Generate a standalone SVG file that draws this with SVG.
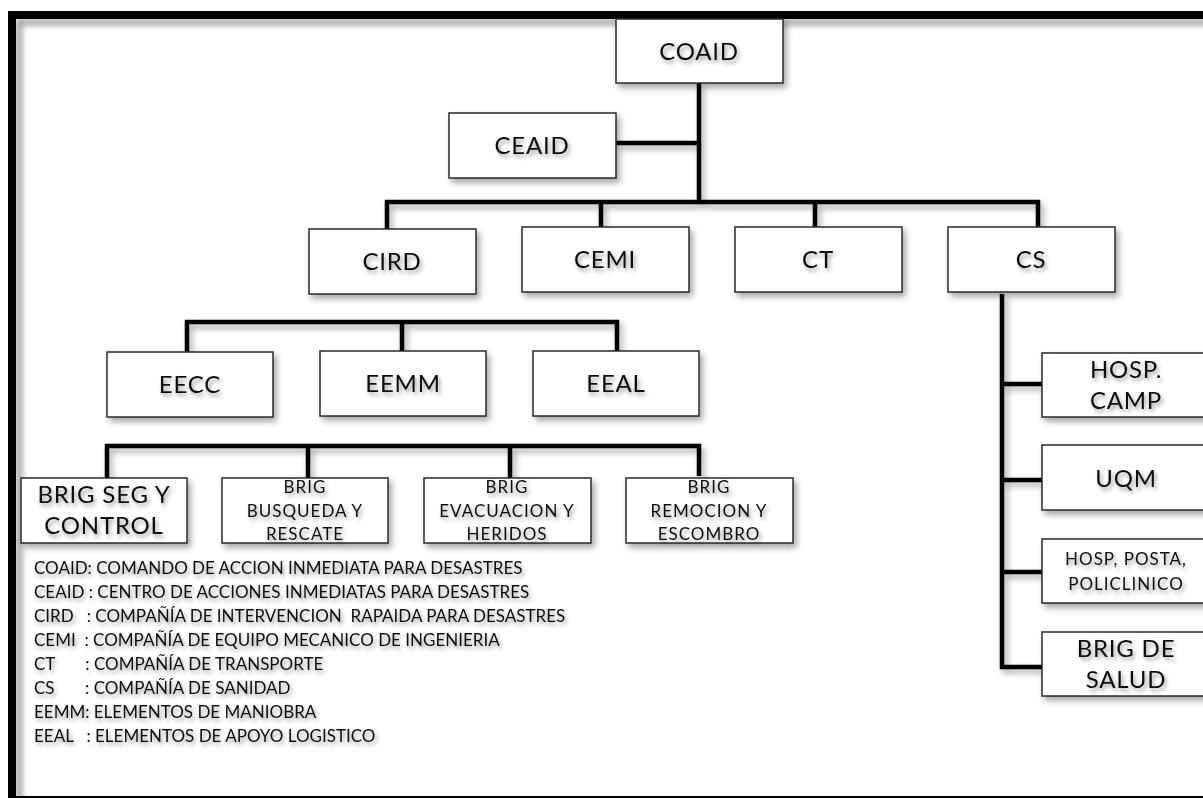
<svg xmlns="http://www.w3.org/2000/svg" width="1203" height="798" viewBox="0 0 1203 798">
<defs>
<filter id="sh" x="-20%" y="-20%" width="150%" height="160%">
<feDropShadow dx="3" dy="4" stdDeviation="3" flood-color="#000" flood-opacity="0.35"/>
</filter>
<filter id="csh" filterUnits="userSpaceOnUse" x="0" y="0" width="1203" height="798">
<feDropShadow dx="3" dy="4" stdDeviation="3" flood-color="#000" flood-opacity="0.35"/>
</filter>
<filter id="tsh" x="-10%" y="-30%" width="130%" height="180%">
<feDropShadow dx="2" dy="3" stdDeviation="2" flood-color="#000" flood-opacity="0.4"/>
</filter>
<filter id="blur" x="-5%" y="-5%" width="110%" height="110%">
<feGaussianBlur stdDeviation="3"/>
</filter>
</defs>
<style>
.box{fill:#fff;stroke:#2a2a2a;stroke-width:1.5;filter:url(#sh)}
.t{font-family:Lato,"Open Sans",sans-serif;fill:#111;text-anchor:middle;filter:url(#tsh)}
.big{font-size:24px;letter-spacing:0.8px}
.sm{font-size:17px;letter-spacing:1px}
.lg{font-family:Lato,"Open Sans",sans-serif;font-size:17px;fill:#111;white-space:pre;filter:url(#tsh)}
.c{fill:none;stroke:#000;stroke-width:4.5}
</style>
<rect width="1203" height="798" fill="#fff"/>
<g id="frame">
<rect x="19" y="22" width="1200" height="790" fill="none" stroke="#9a9a9a" stroke-width="6" filter="url(#blur)"/>
<rect x="12" y="15" width="1200" height="785" fill="none" stroke="#000" stroke-width="8"/>
</g>
<g id="connectors" filter="url(#csh)">
<path class="c" d="M699,83 V202"/>
<path class="c" d="M616,143 H699"/>
<path class="c" d="M387,230 V202 H1038 V227"/>
<path class="c" d="M601,202 V227"/>
<path class="c" d="M815,202 V227"/>
<path class="c" d="M1002,294 V667 H1042"/>
<path class="c" d="M1002,384 H1042"/>
<path class="c" d="M1002,480 H1042"/>
<path class="c" d="M1002,572 H1042"/>
<path class="c" d="M187,352 V322 H617 V351"/>
<path class="c" d="M402,322 V351"/>
<path class="c" d="M107,478 V446 H699 V476"/>
<path class="c" d="M308,446 V478"/>
<path class="c" d="M510,446 V478"/>
</g>
<g id="COAID"><rect class="box" x="616" y="19" width="167" height="64"/><text class="t big" x="699" y="60">COAID</text></g>
<g id="CEAID"><rect class="box" x="449" y="113" width="167" height="65"/><text class="t big" x="532" y="154">CEAID</text></g>
<g id="CIRD"><rect class="box" x="309" y="229" width="167" height="65"/><text class="t big" x="392" y="270">CIRD</text></g>
<g id="CEMI"><rect class="box" x="522" y="227" width="167" height="65"/><text class="t big" x="605" y="268">CEMI</text></g>
<g id="CT"><rect class="box" x="735" y="227" width="167" height="65"/><text class="t big" x="818" y="268">CT</text></g>
<g id="CS"><rect class="box" x="948" y="227" width="167" height="65"/><text class="t big" x="1031" y="268">CS</text></g>
<g id="EECC"><rect class="box" x="107" y="352" width="166" height="65"/><text class="t big" x="190" y="393">EECC</text></g>
<g id="EEMM"><rect class="box" x="320" y="351" width="166" height="65"/><text class="t big" x="403" y="392">EEMM</text></g>
<g id="EEAL"><rect class="box" x="533" y="351" width="166" height="65"/><text class="t big" x="616" y="392">EEAL</text></g>
<g id="BRIG_SEG"><rect class="box" x="21" y="478" width="166" height="65"/><text class="t big" x="104" y="503">BRIG SEG Y</text><text class="t big" x="104" y="534">CONTROL</text></g>
<g id="BRIG_BUSQUEDA"><rect class="box" x="222" y="478" width="166" height="65"/><text class="t sm" x="305" y="493">BRIG</text><text class="t sm" x="305" y="517">BUSQUEDA Y</text><text class="t sm" x="305" y="540">RESCATE</text></g>
<g id="BRIG_EVACUACION"><rect class="box" x="424" y="478" width="167" height="65"/><text class="t sm" x="507" y="493">BRIG</text><text class="t sm" x="507" y="517">EVACUACION Y</text><text class="t sm" x="507" y="540">HERIDOS</text></g>
<g id="BRIG_REMOCION"><rect class="box" x="626" y="478" width="167" height="65"/><text class="t sm" x="709" y="493">BRIG</text><text class="t sm" x="709" y="517">REMOCION Y</text><text class="t sm" x="709" y="540">ESCOMBRO</text></g>
<g id="HOSP_CAMP"><rect class="box" x="1042" y="353" width="167" height="64"/><text class="t big" x="1126" y="378">HOSP.</text><text class="t big" x="1126" y="409">CAMP</text></g>
<g id="UQM"><rect class="box" x="1042" y="445" width="167" height="65"/><text class="t big" x="1126" y="487">UQM</text></g>
<g id="HOSP_POSTA"><rect class="box" x="1042" y="539" width="167" height="64"/><text class="t sm" x="1126" y="565">HOSP, POSTA,</text><text class="t sm" x="1126" y="590">POLICLINICO</text></g>
<g id="BRIG_SALUD"><rect class="box" x="1042" y="632" width="167" height="64"/><text class="t big" x="1126" y="657">BRIG DE</text><text class="t big" x="1126" y="688">SALUD</text></g>
<g id="legend">
<text class="lg" x="34" y="574">COAID: COMANDO DE ACCION INMEDIATA PARA DESASTRES</text>
<text class="lg" x="34" y="598">CEAID : CENTRO DE ACCIONES INMEDIATAS PARA DESASTRES</text>
<text class="lg" x="34" y="622">CIRD   : COMPAÑÍA DE INTERVENCION  RAPAIDA PARA DESASTRES</text>
<text class="lg" x="34" y="646">CEMI  : COMPAÑÍA DE EQUIPO MECANICO DE INGENIERIA</text>
<text class="lg" x="34" y="670">CT       : COMPAÑÍA DE TRANSPORTE</text>
<text class="lg" x="34" y="694">CS       : COMPAÑÍA DE SANIDAD</text>
<text class="lg" x="34" y="718">EEMM: ELEMENTOS DE MANIOBRA</text>
<text class="lg" x="34" y="742">EEAL   : ELEMENTOS DE APOYO LOGISTICO</text>
</g>
</svg>
